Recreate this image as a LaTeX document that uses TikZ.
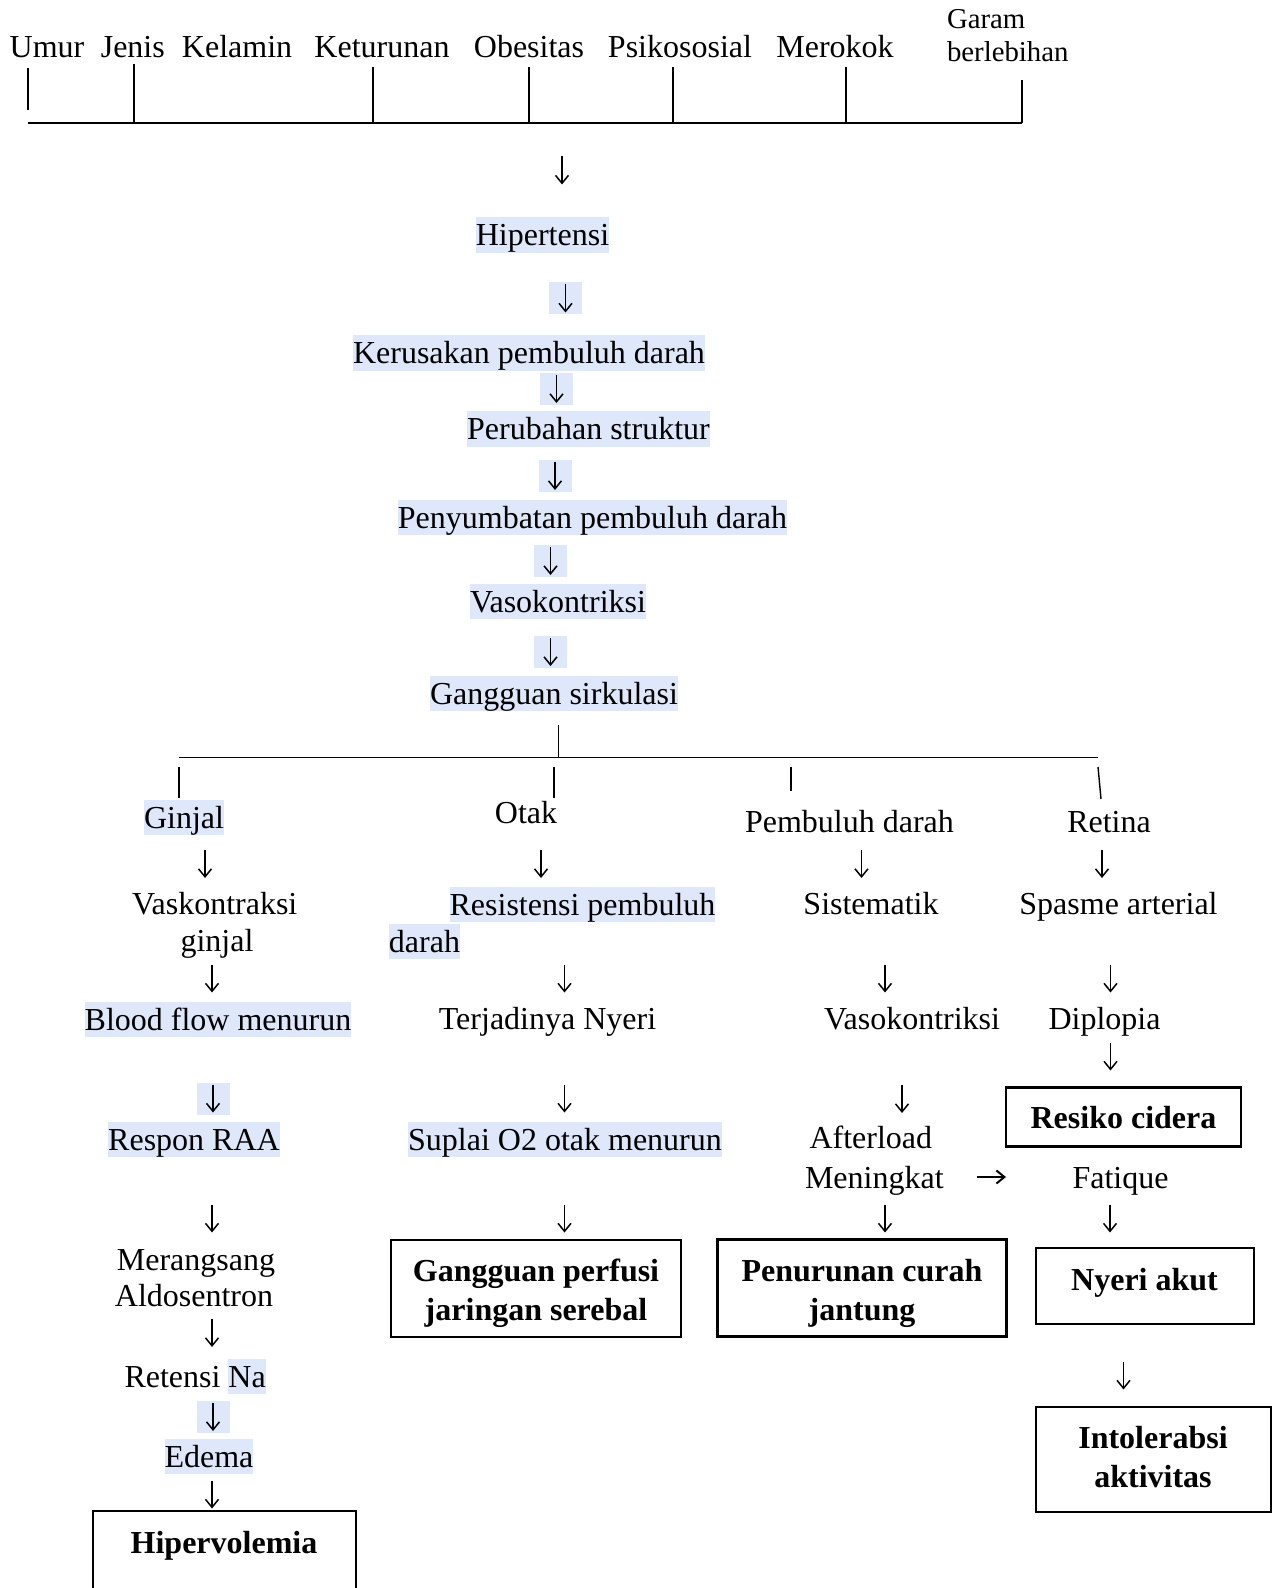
\documentclass[tikz,border=0pt]{standalone}
\usepackage{fontspec}
\setmainfont{Liberation Serif}
\usetikzlibrary{arrows.meta}
\definecolor{hl}{RGB}{222,232,250}
\begin{document}
\begin{tikzpicture}[x=0.5pt,y=-0.5pt,
  every node/.style={inner sep=0pt,outer sep=0pt,font=\fontsize{16pt}{19pt}\selectfont},
  lbl/.style={anchor=base},
  small/.style={anchor=base west,font=\fontsize{14.4pt}{17pt}\selectfont},
  hlt/.style={anchor=base,fill=hl,text height=14.25pt,text depth=3.45pt},
  dn/.style={anchor=center,minimum width=16.5pt,minimum height=14pt},
  dnhl/.style={anchor=center,fill=hl,minimum width=16.5pt,minimum height=16pt},
  arr/.style={line width=0.75pt,-{Straight Barb[length=4pt,width=6.5pt]}},
  arrh/.style={arr,shorten <=1pt,shorten >=1pt},
  box/.style={draw,line width=1.2pt,anchor=north west},
  tree/.style={line width=0.7pt},
  bt/.style={anchor=base,font=\fontsize{16pt}{19pt}\selectfont\bfseries},
]
\useasboundingbox (0,0) rectangle (1278,1588);

% ---------- risk factors ----------
\node[lbl] (umur) at (47,58) {Umur};
\node[lbl] (jk) at (196.5,58) {Jenis\hspace*{8.6pt}Kelamin};
\node[lbl] (ket) at (382,58) {Keturunan};
\node[lbl] (obe) at (529,58) {Obesitas};
\node[lbl] (psi) at (680,58) {Psikososial};
\node[lbl] (mer) at (835,58) {Merokok};
\node[small] (gar1) at (947,28.5) {Garam};
\node[small] (gar2) at (947,62) {berlebihan};

\coordinate (u1) at (28,68);   \coordinate (u2) at (28,110);
\coordinate (j1) at (134,64);  \coordinate (j2) at (134,123);
\coordinate (k1) at (373,67);  \coordinate (k2) at (373,123);
\coordinate (o1) at (529,67);  \coordinate (o2) at (529,123);
\coordinate (p1) at (673,67);  \coordinate (p2) at (673,123);
\coordinate (m1) at (846,67);  \coordinate (m2) at (846,123);
\coordinate (g1) at (1022,80); \coordinate (g2) at (1022,123);
\coordinate (busL) at (28,123);
\draw[tree] (u1) -- (u2);
\draw[tree] (j1) -- (j2);
\draw[tree] (k1) -- (k2);
\draw[tree] (o1) -- (o2);
\draw[tree] (p1) -- (p2);
\draw[tree] (m1) -- (m2);
\draw[tree] (g1) -- (g2);
\draw[tree] (busL) -- (g2);

% ---------- central chain ----------
\node[dn] (a0) at (562,170.5) {};
\node[hlt] (hip) at (542.5,246) {Hipertensi};
\node[dnhl] (a1) at (565.5,298.5) {};
\node[hlt] (ker) at (529,364) {Kerusakan pembuluh darah};
\node[dnhl] (a2) at (556.5,389) {};
\node[hlt] (per) at (588.5,440) {Perubahan struktur};
\node[dnhl] (a3) at (555,476) {};
\node[hlt] (pen) at (592.5,528) {Penyumbatan pembuluh darah};
\node[dnhl] (a4) at (550.5,561) {};
\node[hlt] (vas) at (558,612) {Vasokontriksi};
\node[dnhl] (a5) at (550.5,652) {};
\node[hlt] (gs) at (554,704) {Gangguan sirkulasi};
\draw[arr] (a0.north) -- (a0.south);
\foreach \n in {a1,a2,a3,a4,a5} \draw[arrh] (\n.north) -- (\n.south);

% ---------- branch bus ----------
\coordinate (s1) at (558.5,725);  \coordinate (s2) at (558.5,757.5);
\coordinate (bL) at (179,757.5);  \coordinate (bR) at (1098,757.5);
\coordinate (c1a) at (179,767);   \coordinate (c1b) at (179,798);
\coordinate (c2a) at (554,767);   \coordinate (c2b) at (554,798);
\coordinate (c3a) at (791,767);   \coordinate (c3b) at (791,791);
\coordinate (c4a) at (1098,767);  \coordinate (c4b) at (1101,799);
\draw[tree] (s1) -- (s2);
\draw[tree] (bL) -- (bR);
\draw[tree] (c1a) -- (c1b);
\draw[tree] (c2a) -- (c2b);
\draw[tree] (c3a) -- (c3b);
\draw[tree] (c4a) -- (c4b);

% ---------- column 1: Ginjal ----------
\node[hlt] (ginjal) at (184,828) {Ginjal};
\node[dn] (b1) at (205,864) {};
\node[lbl] (vk1) at (214.7,914) {Vaskontraksi};
\node[lbl] (vk2) at (217,951) {ginjal};
\node[dn] (b2) at (212,978.5) {};
\node[hlt] (bfm) at (218,1030) {Blood flow menurun};
\node[dnhl] (b3) at (213,1098.5) {};
\node[hlt] (raa) at (194,1150) {Respon RAA};
\node[dn] (b4) at (212,1218.5) {};
\node[lbl] (mr1) at (196,1270) {Merangsang};
\node[lbl] (mr2) at (194,1306.5) {Aldosentron};
\node[dn] (b5) at (212,1333) {};
\node[anchor=base west] (ret) at (124.5,1387) {Retensi {\setlength{\fboxsep}{0pt}\colorbox{hl}{\vrule width 0pt height 14.25pt depth 3.45pt Na}}};
\node[dnhl] (b6) at (213,1417) {};
\node[hlt] (ede) at (209,1467.5) {Edema};
\node[dn] (b7) at (212,1494.5) {};
\node[box,minimum width=131.5pt,minimum height=56pt] (hv) at (93,1511) {};
\node[bt] (hvt) at (224,1553) {Hipervolemia};
\foreach \n in {b1,b2,b4,b5,b7} \draw[arr] (\n.north) -- (\n.south);
\foreach \n in {b3,b6} \draw[arrh] (\n.north) -- (\n.south);

% ---------- column 2: Otak ----------
\node[lbl] (otak) at (526,823) {Otak};
\node[dn] (d1) at (541,864) {};
\node[hlt] (res1) at (582.5,915) {Resistensi pembuluh};
\node[hlt] (res2) at (424.5,952) {darah};
\node[dn] (d2) at (564.5,978.5) {};
\node[lbl] (nye) at (547.5,1029.5) {Terjadinya Nyeri};
\node[dn] (d3) at (564.5,1098.5) {};
\node[hlt] (sup) at (565,1150) {Suplai O2 otak menurun};
\node[dn] (d4) at (564.5,1218.5) {};
\node[box,minimum width=145pt,minimum height=48.5pt] (gp) at (391,1240) {};
\node[bt] (gp1) at (536,1281) {Gangguan perfusi};
\node[bt] (gp2) at (536,1320.5) {jaringan serebal};
\foreach \n in {d1,d2,d3,d4} \draw[arr] (\n.north) -- (\n.south);

% ---------- column 3: Pembuluh darah ----------
\node[lbl] (pd) at (849.5,832.5) {Pembuluh darah};
\node[dn] (e1) at (861.5,864) {};
\node[lbl] (sis) at (871,914) {Sistematik};
\node[dn] (e2) at (885,978.5) {};
\node[lbl] (vas2) at (912,1029.5) {Vasokontriksi};
\node[dn] (e3) at (902,1099) {};
\node[anchor=base west] (aft) at (809.5,1148.5) {Afterload};
\node[anchor=base west] (men) at (805,1188.5) {Meningkat};
\node[dn] (e4) at (885,1218.5) {};
\node[box,minimum width=144.5pt,minimum height=48.5pt] (pc) at (717.5,1239.5) {};
\node[bt] (pc1) at (862,1281) {Penurunan curah};
\node[bt] (pc2) at (862,1320.5) {jantung};
\foreach \n in {e1,e2,e3,e4} \draw[arr] (\n.north) -- (\n.south);
\node[anchor=center,minimum width=14.5pt,minimum height=8pt] (rarr) at (991.5,1177) {};
\draw[arr,line width=1pt] (rarr.west) -- (rarr.east);

% ---------- column 4: Retina ----------
\node[lbl] (ret4) at (1109,832.5) {Retina};
\node[dn] (f1) at (1102,864) {};
\node[lbl] (spa) at (1118.5,914) {Spasme arterial};
\node[dn] (f2) at (1110.5,978.5) {};
\node[lbl] (dip) at (1104.5,1029.5) {Diplopia};
\node[dn] (f3) at (1110.5,1056.5) {};
\node[box,minimum width=117.5pt,minimum height=29.5pt] (rc) at (1006,1087.5) {};
\node[bt] (rct) at (1123.5,1128.5) {Resiko cidera};
\node[lbl] (fat) at (1120.5,1188.5) {Fatique};
\node[dn] (f4) at (1110,1218.5) {};
\node[box,minimum width=109pt,minimum height=38pt] (na) at (1036,1248) {};
\node[bt] (nat) at (1144.5,1290) {Nyeri akut};
\node[dn] (f5) at (1123.5,1375.5) {};
\node[box,minimum width=117.5pt,minimum height=52.5pt] (ia) at (1036,1407) {};
\node[bt] (ia1) at (1153,1448) {Intolerabsi};
\node[bt] (ia2) at (1153,1487.5) {aktivitas};
\foreach \n in {f1,f2,f3,f4,f5} \draw[arr] (\n.north) -- (\n.south);
\end{tikzpicture}
\end{document}
